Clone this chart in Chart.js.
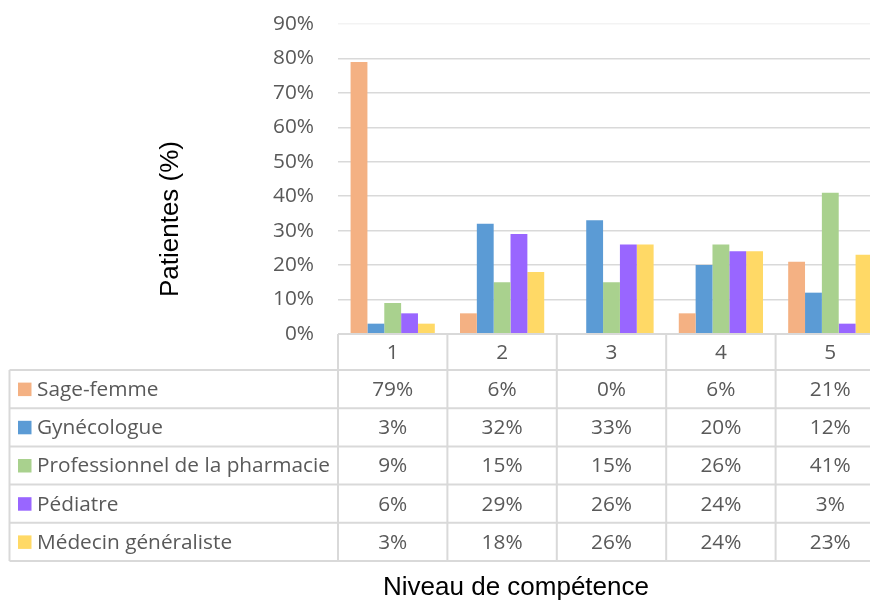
<!DOCTYPE html>
<html lang="fr">
<head>
<meta charset="utf-8">
<title>Niveau de compétence</title>
<script src="https://cdn.jsdelivr.net/npm/chart.js@4.4.1/dist/chart.umd.min.js"></script>
<style>
  html, body { margin: 0; padding: 0; background: #fff; overflow: hidden; }
  #wrap { width: 900px; height: 606px; }
</style>
</head>
<body>
<div id="wrap"><canvas id="chart" width="900" height="606"></canvas></div>
<script>
// Competence levels (x categories)
const levels = ['1', '2', '3', '4', '5'];

// Share of patients (%) for each professional, per level
const sageFemme = [79, 6, 0, 6, 21];
const gynecologue = [3, 32, 33, 20, 12];
const pharmacie = [9, 15, 15, 26, 41];
const pediatre = [6, 29, 26, 24, 3];
const generaliste = [3, 18, 26, 24, 23];

const seriesNames = ['Sage-femme', 'Gynécologue', 'Professionnel de la pharmacie', 'Pédiatre', 'Médecin généraliste'];
const seriesValues = [sageFemme, gynecologue, pharmacie, pediatre, generaliste];
const seriesColors = ['#F4B183', '#5B9BD5', '#A9D18E', '#9966FF', '#FFD966'];

const yMax = 90;
const yStep = 10;

const TEXT_GREY = '#595959';
const LINE_GREY = '#d9d9d9';
const TABLE_FONT = '20.8px "Open Sans"';
const TITLE_FONT = '26px "Liberation Sans", Arial, sans-serif';

// Data table under the plot + both axis titles
const dataTable = {
    id: 'dataTable',
    afterDraw(chart) {
        const ctx = chart.ctx;
        const xs = chart.scales.x;
        const area = chart.chartArea;
        const colW = xs.width / levels.length;
        const headTop = area.bottom;
        const headBottom = headTop + 36;
        const rowH = 38.2;
        const tableLeft = 9.5;
        const tableBottom = headBottom + rowH * seriesNames.length;

        ctx.save();
        ctx.strokeStyle = LINE_GREY;
        ctx.lineWidth = 2;
        ctx.beginPath();
        ctx.moveTo(area.left, headTop);
        ctx.lineTo(area.right, headTop);
        for (let r = 0; r <= seriesNames.length; r++) {
            const y = headBottom + r * rowH;
            ctx.moveTo(tableLeft, y);
            ctx.lineTo(area.right, y);
        }
        for (let c = 0; c <= levels.length; c++) {
            const x = area.left + c * colW;
            ctx.moveTo(x, headTop);
            ctx.lineTo(x, tableBottom);
        }
        ctx.moveTo(tableLeft, headBottom);
        ctx.lineTo(tableLeft, tableBottom);
        ctx.stroke();

        ctx.font = TABLE_FONT;
        ctx.fillStyle = TEXT_GREY;
        ctx.textBaseline = 'middle';
        ctx.textAlign = 'center';
        levels.forEach((lv, i) => {
            ctx.fillText(lv, xs.getPixelForValue(i), (headTop + headBottom) / 2 + 1);
        });

        seriesNames.forEach((name, r) => {
            const cy = headBottom + (r + 0.5) * rowH + 1;
            ctx.fillStyle = seriesColors[r];
            ctx.fillRect(18, cy - 7.5, 13.5, 13.5);
            ctx.fillStyle = TEXT_GREY;
            ctx.textAlign = 'left';
            ctx.fillText(name, 37, cy);
            ctx.textAlign = 'center';
            seriesValues[r].forEach((v, i) => {
                ctx.fillText(v + '%', xs.getPixelForValue(i), cy);
            });
        });

        // axis titles
        ctx.fillStyle = '#000';
        ctx.font = TITLE_FONT;
        ctx.textAlign = 'center';
        ctx.textBaseline = 'middle';
        ctx.fillText('Niveau de compétence', 516, 588);
        ctx.translate(171, 219);
        ctx.rotate(-Math.PI / 2);
        ctx.fillText('Patientes (%)', 0, 0);
        ctx.restore();
    }
};

new Chart(document.getElementById('chart'), {
    type: 'bar',
    data: {
        labels: levels,
        datasets: seriesNames.map((name, i) => ({
            label: name,
            data: seriesValues[i],
            backgroundColor: seriesColors[i],
            borderWidth: 0,
            categoryPercentage: 0.77,
            barPercentage: 1.0
        }))
    },
    options: {
        responsive: false,
        animation: false,
        devicePixelRatio: 1,
        layout: { padding: { top: 24, right: 15, bottom: 272, left: 0 } },
        plugins: {
            legend: { display: false },
            tooltip: { enabled: false }
        },
        scales: {
            x: {
                ticks: { display: false },
                grid: { display: false },
                border: { display: false },
                afterFit(scale) { scale.height = 0; }
            },
            y: {
                min: 0,
                max: yMax,
                ticks: {
                    stepSize: yStep,
                    padding: 24,
                    color: TEXT_GREY,
                    font: { family: 'Open Sans', size: 20.8 },
                    callback: v => v + '%'
                },
                grid: {
                    color: ctx => ctx.tick && ctx.tick.value === yMax ? '#f3f3f3' : LINE_GREY,
                    lineWidth: 1.5,
                    drawTicks: false
                },
                border: { display: false },
                afterFit(scale) {
                    scale.width = 338;
                    scale.paddingTop = 0;
                    scale.paddingBottom = 0;
                }
            }
        }
    },
    plugins: [dataTable]
});
</script>
</body>
</html>
